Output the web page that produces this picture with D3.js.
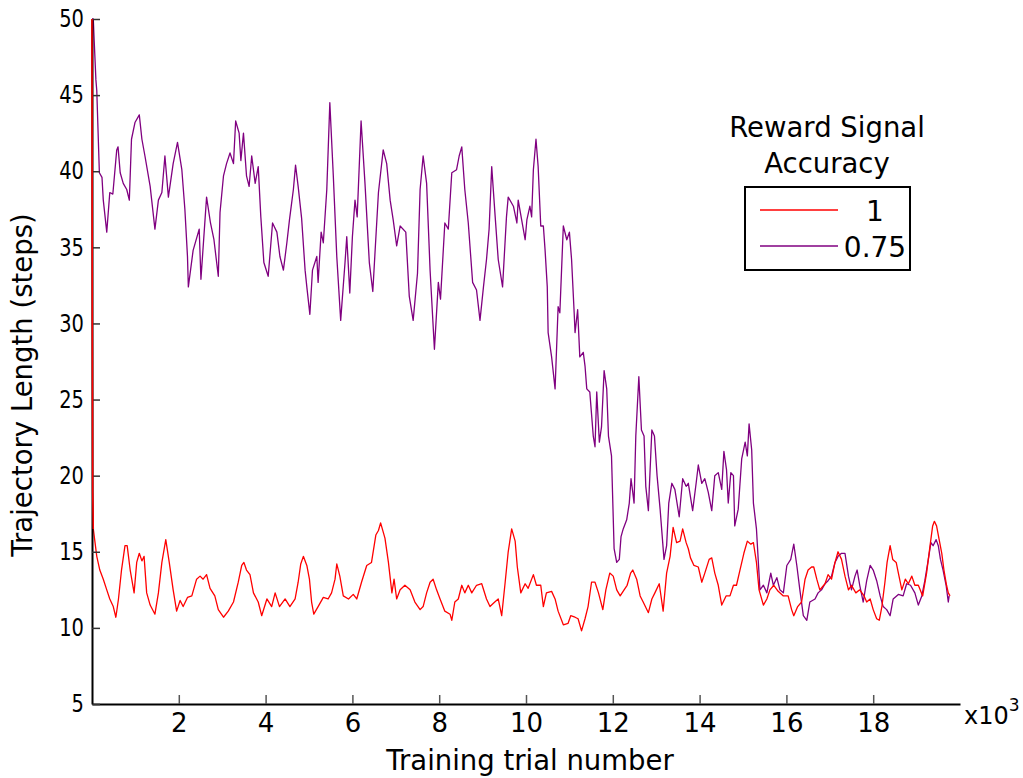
<!DOCTYPE html>
<html>
<head>
<meta charset="utf-8">
<script src="https://cdn.jsdelivr.net/npm/d3@7"></script>
<style>
  body { margin: 0; background: #fff; }
  text { font-family: "DejaVu Sans", sans-serif; fill: #000; }
</style>
</head>
<body>
<div id="chart"></div>
<script>
const width = 1023;
const height = 778;

// training trial (x10^3), trajectory length (steps)
const acc1 = [
  [0,50],[0.008,30],[0.015,18.9],[0.03,16.5],[0.11,14.7],[0.18,13.8],[0.26,13.2],[0.34,12.5],[0.41,11.9],[0.49,11.4],
  [0.55,10.7],[0.61,11.9],[0.68,13.8],[0.76,15.4],[0.81,15.4],[0.88,13.8],[0.97,12.3],[1.03,14.3],[1.09,14.9],[1.15,14.4],
  [1.20,14.7],[1.26,12.3],[1.34,11.5],[1.45,10.9],[1.53,12.3],[1.61,14.3],[1.70,15.8],[1.78,14.3],[1.87,12.5],[1.95,11.1],
  [2.03,11.8],[2.10,11.4],[2.20,12.0],[2.30,12.1],[2.41,13.2],[2.49,13.4],[2.56,13.2],[2.64,13.5],[2.72,12.6],[2.83,12.1],
  [2.91,11.2],[3.03,10.7],[3.14,11.1],[3.26,11.7],[3.37,13.0],[3.45,14.1],[3.50,14.3],[3.56,13.8],[3.64,13.5],[3.72,12.3],
  [3.83,11.7],[3.91,10.8],[4.03,11.9],[4.14,11.4],[4.22,12.3],[4.32,11.4],[4.45,11.9],[4.56,11.4],[4.68,11.9],[4.75,13.0],
  [4.81,14.2],[4.87,14.7],[4.95,14.1],[5.01,13.2],[5.06,11.7],[5.11,10.9],[5.21,11.4],[5.33,12.0],[5.44,11.9],[5.52,12.3],
  [5.60,13.2],[5.64,14.2],[5.71,13.4],[5.79,12.1],[5.91,11.9],[6.02,12.2],[6.10,11.9],[6.21,13.0],[6.33,14.1],[6.44,14.3],
  [6.54,16.1],[6.60,16.4],[6.65,16.9],[6.75,15.9],[6.83,14.3],[6.91,12.3],[6.96,13.2],[7.02,11.9],[7.10,12.5],[7.21,12.8],
  [7.33,12.5],[7.44,11.7],[7.56,11.2],[7.63,11.4],[7.71,12.3],[7.79,13.0],[7.86,13.2],[7.94,12.5],[8.02,11.9],[8.13,11.1],
  [8.25,10.9],[8.29,10.5],[8.36,11.7],[8.44,11.9],[8.52,12.8],[8.59,12.3],[8.67,12.8],[8.75,12.3],[8.86,12.8],[8.98,12.9],
  [9.09,11.9],[9.17,11.4],[9.28,11.7],[9.36,11.9],[9.44,10.8],[9.52,13.0],[9.59,15.0],[9.67,16.5],[9.75,15.7],[9.80,14.0],
  [9.88,12.3],[9.98,12.9],[10.05,12.6],[10.17,13.5],[10.24,12.8],[10.34,12.8],[10.40,11.4],[10.47,12.3],[10.59,12.4],[10.67,11.9],
  [10.74,11.1],[10.86,10.2],[10.97,10.3],[11.03,10.8],[11.13,10.7],[11.20,10.6],[11.28,9.8],[11.36,10.6],[11.43,11.4],[11.51,13.0],
  [11.59,13.0],[11.67,12.3],[11.77,11.2],[11.84,12.5],[11.93,13.6],[12.01,13.4],[12.09,12.5],[12.17,12.1],[12.26,12.5],[12.33,12.8],
  [12.41,13.6],[12.46,13.8],[12.55,13.2],[12.63,12.1],[12.70,11.7],[12.82,11.0],[12.90,11.9],[12.97,12.3],[13.07,12.9],[13.16,11.1],
  [13.24,13.6],[13.32,14.7],[13.39,16.6],[13.47,15.6],[13.55,15.7],[13.61,16.5],[13.69,15.6],[13.74,15.2],[13.79,14.6],[13.87,14.1],
  [13.97,14.0],[14.05,13.0],[14.12,13.6],[14.22,14.5],[14.28,14.6],[14.35,13.6],[14.43,12.8],[14.51,11.5],[14.61,12.1],[14.70,12.1],
  [14.78,12.8],[14.85,12.8],[14.93,13.8],[15.02,14.9],[15.10,15.7],[15.18,15.5],[15.24,15.6],[15.31,14.3],[15.37,12.5],[15.47,11.5],
  [15.55,11.9],[15.62,12.5],[15.71,12.8],[15.81,12.4],[15.93,12.1],[16.04,12.1],[16.12,11.2],[16.17,10.8],[16.26,11.4],[16.35,11.7],
  [16.43,13.2],[16.50,13.8],[16.58,14.0],[16.63,14.0],[16.70,13.2],[16.77,12.5],[16.89,12.9],[16.96,13.5],[17.04,13.2],[17.12,14.3],
  [17.19,15.0],[17.27,14.5],[17.35,13.4],[17.43,12.5],[17.50,12.8],[17.60,12.3],[17.69,12.5],[17.79,12.1],[17.85,11.7],[17.93,11.9],
  [18.00,11.2],[18.08,10.6],[18.14,10.5],[18.20,11.4],[18.27,13.0],[18.32,14.3],[18.39,15.4],[18.45,14.5],[18.53,14.3],[18.58,13.6],
  [18.66,12.5],[18.74,13.2],[18.81,12.9],[18.89,13.4],[18.96,12.8],[19.04,12.8],[19.14,12.1],[19.23,13.6],[19.31,15.4],[19.37,16.7],
  [19.41,17.0],[19.46,16.7],[19.52,15.8],[19.58,14.9],[19.63,13.8],[19.69,12.8],[19.73,12.3],[19.77,12.1]
];

const acc075 = [
  [0,50],[0.03,50],[0.05,48.6],[0.09,46],[0.11,45.3],[0.17,39.9],[0.23,39.6],[0.26,38.1],[0.34,36.0],[0.41,38.6],
  [0.48,38.5],[0.57,41.4],[0.60,41.6],[0.65,39.9],[0.72,39.2],[0.80,38.8],[0.86,38.1],[0.91,42.1],[0.99,43.2],[1.09,43.7],
  [1.15,42.1],[1.22,41.0],[1.34,39.0],[1.45,36.2],[1.53,38.1],[1.61,38.6],[1.68,41.0],[1.76,38.3],[1.87,40.5],[1.97,41.9],
  [2.07,40.1],[2.14,37.5],[2.20,34.4],[2.22,32.4],[2.33,34.8],[2.47,36.2],[2.51,32.9],[2.64,38.3],[2.73,36.6],[2.81,35.5],
  [2.91,33.1],[2.95,37.3],[3.03,39.7],[3.10,40.5],[3.18,41.2],[3.26,40.5],[3.31,43.3],[3.39,42.5],[3.43,40.7],[3.49,42.5],
  [3.56,39.7],[3.62,39.0],[3.68,41.0],[3.76,39.2],[3.83,40.3],[3.89,37.0],[3.96,34.0],[4.06,33.1],[4.16,36.6],[4.26,36.0],
  [4.33,34.4],[4.41,33.5],[4.49,35.3],[4.55,36.8],[4.64,38.8],[4.69,40.4],[4.75,39.0],[4.83,36.9],[4.91,33.5],[4.95,32.4],
  [5.02,30.6],[5.08,33.5],[5.18,34.4],[5.21,32.7],[5.28,36.0],[5.33,35.3],[5.41,38.8],[5.48,44.5],[5.56,39.7],[5.64,34.4],
  [5.73,30.2],[5.83,34.0],[5.87,35.7],[5.94,32.0],[6.00,35.7],[6.06,38.1],[6.11,37.0],[6.20,43.3],[6.29,39.2],[6.39,34.0],
  [6.47,32.1],[6.60,38.6],[6.71,41.4],[6.79,40.5],[6.87,38.1],[6.94,36.8],[7.02,35.1],[7.10,36.4],[7.23,36.0],[7.31,31.8],
  [7.40,30.2],[7.50,33.3],[7.56,38.8],[7.63,41.0],[7.71,39.2],[7.79,33.5],[7.89,28.3],[7.98,32.7],[8.03,31.6],[8.13,36.6],
  [8.21,36.2],[8.29,39.9],[8.40,40.1],[8.46,41.0],[8.52,41.6],[8.59,38.8],[8.67,36.6],[8.77,32.7],[8.86,32.2],[8.94,30.2],
  [9.02,32.4],[9.09,34.2],[9.15,36.2],[9.21,40.3],[9.29,37.0],[9.36,34.2],[9.46,32.4],[9.55,37.0],[9.59,38.3],[9.71,37.7],
  [9.79,36.6],[9.82,38.1],[9.90,36.8],[9.98,35.5],[10.02,36.8],[10.09,37.7],[10.13,37.0],[10.17,40.1],[10.23,42.1],[10.28,40.3],
  [10.34,36.4],[10.40,36.4],[10.44,34.8],[10.49,32.4],[10.51,29.4],[10.59,27.8],[10.67,25.7],[10.74,31.1],[10.78,30.7],[10.86,36.4],
  [10.94,35.5],[11.00,36.0],[11.05,34.2],[11.11,30.7],[11.13,29.4],[11.19,30.9],[11.24,27.8],[11.32,28.1],[11.36,27.2],[11.40,25.7],
  [11.47,25.5],[11.55,22.6],[11.59,21.9],[11.63,25.5],[11.69,22.2],[11.74,23.2],[11.80,26.9],[11.86,25.7],[11.90,22.6],[11.97,21.3],
  [12.03,15.2],[12.09,14.3],[12.15,14.5],[12.19,16.0],[12.24,16.5],[12.32,17.1],[12.38,18.2],[12.42,19.8],[12.46,18.9],[12.49,18.2],
  [12.53,22.6],[12.60,26.5],[12.66,23.0],[12.72,22.6],[12.76,19.3],[12.82,17.7],[12.84,19.1],[12.90,23.0],[12.96,22.6],[13.02,20.0],
  [13.09,17.8],[13.15,15.6],[13.18,14.5],[13.24,15.4],[13.29,18.2],[13.36,19.5],[13.43,19.1],[13.53,17.3],[13.61,19.8],[13.69,19.3],
  [13.74,19.5],[13.84,17.7],[13.92,19.5],[13.97,20.7],[14.05,19.5],[14.12,19.8],[14.20,18.9],[14.28,17.7],[14.35,20.0],[14.43,20.2],
  [14.51,19.1],[14.56,21.6],[14.62,20.4],[14.66,18.2],[14.72,20.2],[14.78,20.0],[14.81,16.7],[14.89,17.8],[14.97,21.1],[15.05,22.2],
  [15.10,21.3],[15.14,23.4],[15.20,21.7],[15.24,18.2],[15.31,16.5],[15.39,12.5],[15.47,12.8],[15.55,12.3],[15.64,13.6],[15.70,12.8],
  [15.78,13.3],[15.85,12.5],[15.93,12.3],[16.01,14.1],[16.10,14.5],[16.17,15.5],[16.24,14.1],[16.31,12.5],[16.39,10.8],[16.47,10.5],
  [16.54,11.7],[16.66,11.9],[16.73,12.3],[16.81,12.5],[16.89,12.9],[16.96,13.1],[17.04,13.4],[17.12,14.3],[17.19,14.7],[17.27,14.9],
  [17.35,14.9],[17.43,13.4],[17.50,12.5],[17.58,13.4],[17.63,13.8],[17.69,12.8],[17.77,11.7],[17.85,13.1],[17.93,14.1],[18.00,13.8],
  [18.08,13.1],[18.16,12.1],[18.23,11.4],[18.31,11.2],[18.39,10.8],[18.46,11.9],[18.58,12.2],[18.69,12.1],[18.77,12.9],[18.86,12.8],
  [18.96,12.3],[19.04,11.5],[19.12,12.1],[19.19,13.1],[19.27,14.5],[19.33,15.6],[19.38,15.4],[19.45,15.8],[19.50,15.4],[19.55,14.5],
  [19.61,13.8],[19.68,12.8],[19.73,11.7],[19.75,12.1]
];

const xTicks = [2, 4, 6, 8, 10, 12, 14, 16, 18];
const yTicks = [5, 10, 15, 20, 25, 30, 35, 40, 45, 50];
const seriesNames = ["1", "0.75"];
const seriesColors = ["#ff0000", "#800080"];

const svg = d3.select("#chart").append("svg")
  .attr("width", width)
  .attr("height", height);

const x = d3.scaleLinear().domain([0, 20]).range([92, 960]);
const y = d3.scaleLinear().domain([5, 50]).range([704, 19]);

const line = d3.line().x(d => x(d[0])).y(d => y(d[1]));

// purple first so red sits on top near the start
[acc075, acc1].forEach((s, i) => {
  svg.append("path")
    .datum(s)
    .attr("fill", "none")
    .attr("stroke", i === 0 ? seriesColors[1] : seriesColors[0])
    .attr("stroke-width", 1.3)
    .attr("stroke-linejoin", "round")
    .attr("d", line);
});

const gx = svg.append("g")
  .attr("transform", `translate(0,${y(5)})`)
  .call(d3.axisBottom(x).tickValues(xTicks).tickSize(-9).tickSizeOuter(0).tickPadding(10).tickFormat(d3.format("d")));
gx.select(".domain").attr("stroke", "#000").attr("stroke-width", 2);
gx.selectAll(".tick line").attr("stroke", "#555").attr("stroke-width", 1.5);
gx.selectAll(".tick text").style("font-size", "26px").style("font-family", "DejaVu Sans");

const gy = svg.append("g")
  .attr("transform", `translate(${x(0)},0)`)
  .call(d3.axisLeft(y).tickValues(yTicks).tickSize(-8).tickSizeOuter(0).tickPadding(9));
gy.select(".domain").attr("stroke", "#000").attr("stroke-width", 2);
gy.selectAll(".tick line").attr("stroke", "#333").attr("stroke-width", 1.5);
gy.selectAll(".tick text").style("font-size", "24px").style("font-family", "'DejaVu Sans Condensed', 'DejaVu Sans'")
  .attr("transform", "scale(0.9,1)");

// draw the red start again over the axis line
svg.append("path")
  .datum(acc1.slice(0, 4))
  .attr("fill", "none")
  .attr("stroke", seriesColors[0])
  .attr("stroke-width", 1.5)
  .attr("d", line);

// x10^3 multiplier
const mult = svg.append("text").attr("x", 964).attr("y", 724).style("font-size", "24px");
mult.append("tspan").text("x10");
mult.append("tspan").attr("dy", -13).style("font-size", "17px").text("3");

svg.append("text")
  .attr("x", 530)
  .attr("y", 770)
  .attr("text-anchor", "middle")
  .style("font-size", "27.5px")
  .text("Training trial number");

svg.append("text")
  .attr("transform", "translate(32,385) rotate(-90)")
  .attr("text-anchor", "middle")
  .style("font-size", "27.5px")
  .text("Trajectory Length (steps)");

// legend
svg.append("text").attr("x", 827).attr("y", 137).attr("text-anchor", "middle")
  .style("font-size", "27.5px").text("Reward Signal");
svg.append("text").attr("x", 827).attr("y", 173).attr("text-anchor", "middle")
  .style("font-size", "27.5px").text("Accuracy");

svg.append("rect")
  .attr("x", 745).attr("y", 187)
  .attr("width", 165).attr("height", 83)
  .attr("fill", "#fff")
  .attr("stroke", "#000")
  .attr("stroke-width", 2);

seriesNames.forEach((name, i) => {
  const ly = 210 + i * 36;
  svg.append("line")
    .attr("x1", 760).attr("x2", 838)
    .attr("y1", ly).attr("y2", ly)
    .attr("stroke", seriesColors[i])
    .attr("stroke-width", 1.3);
  svg.append("text")
    .attr("x", 875).attr("y", ly + 11)
    .attr("text-anchor", "middle")
    .style("font-size", "28px")
    .text(name);
});
</script>
</body>
</html>
